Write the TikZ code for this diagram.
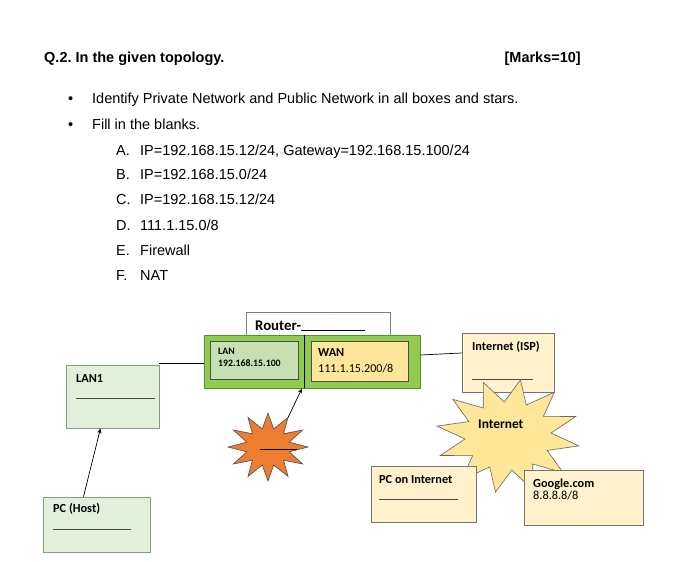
\documentclass[tikz,border=0pt]{standalone}
\usepackage{fontspec}
\setmainfont{Liberation Sans}
\newfontfamily\calfont{Carlito}
\usetikzlibrary{arrows.meta}
\frenchspacing
\definecolor{grnout}{HTML}{8FCB4E}
\definecolor{grnoutb}{HTML}{5B8C32}
\definecolor{laninner}{HTML}{C6E0B4}
\definecolor{wanfill}{HTML}{FFE699}
\definecolor{lgreen}{HTML}{E2EFDA}
\definecolor{lgreenb}{HTML}{8A9A80}
\definecolor{lyellow}{HTML}{FFF2CC}
\definecolor{starorange}{HTML}{ED7D31}
\definecolor{staryellow}{HTML}{FFE699}
\tikzset{
  box/.style={draw, line width=0.8pt, inner sep=0pt},
  body/.style={anchor=base west, inner sep=0pt, font=\fontsize{14.5}{16}\selectfont},
  bodyb/.style={body, font=\fontsize{14.5}{16}\selectfont\bfseries},
  lbl/.style={anchor=base west, inner sep=0pt, font=\fontsize{12.3}{14}\selectfont\calfont\bfseries},
  blank/.style={draw=black!70, line width=0.7pt},
  conn/.style={draw=black, line width=0.7pt},
  arr/.style={conn, -{Stealth[length=5pt,width=4pt]}}
}
\begin{document}
\begin{tikzpicture}[x=1pt,y=-1pt]
\useasboundingbox[fill=white] (0,0) rectangle (689,562);

% header text
\node[bodyb] (title) at (44,63) {Q.2. In the given topology.};
\node[bodyb, anchor=base east] (marks) at (581,63) {[Marks=10]};
\node[body] (b1) at (68,103) {\textbullet};
\node[body] (t1) at (92,103) {Identify Private Network and Public Network in all boxes and stars.};
\node[body] (b2) at (68,129) {\textbullet};
\node[body] (t2) at (92,129) {Fill in the blanks.};
\node[body] (la) at (116,155) {A.};
\node[body] (ta) at (140,155) {IP=192.168.15.12/24, Gateway=192.168.15.100/24};
\node[body] (lb) at (116,179) {B.};
\node[body] (tb) at (140,179) {IP=192.168.15.0/24};
\node[body] (lc) at (116,204) {C.};
\node[body] (tc) at (140,204) {IP=192.168.15.12/24};
\node[body] (ld) at (116,230) {D.};
\node[body] (td) at (140,230) {111.1.15.0/8};
\node[body] (le) at (116,255) {E.};
\node[body] (te) at (140,255) {Firewall};
\node[body] (lf) at (116,280) {F.};
\node[body] (tf) at (140,280) {NAT};

% router
\node[box, draw=black!50, fill=white, minimum width=144pt, minimum height=24pt] (rlabel) at (318,324) {};
\node[lbl, font=\fontsize{14.8}{16}\selectfont\calfont\bfseries] (rtext) at (255,330) {Router-\rule[-1pt]{64pt}{0.9pt}};
\node[box, draw=grnoutb, fill=grnout, minimum width=216pt, minimum height=53pt] (green) at (312,361.5) {};
\node[box, draw=black!70, fill=laninner, minimum width=88pt, minimum height=38pt] (lanbox) at (254,360) {};
\node[box, draw=black!70, fill=wanfill, minimum width=97pt, minimum height=40pt] (wanbox) at (359.5,361) {};
\draw[conn, line width=1pt] ([xshift=-8pt]green.north) -- ([xshift=-8pt]green.south);
\node[lbl, font=\fontsize{9.8}{11}\selectfont\calfont\bfseries] (lant) at (218,354.5) {LAN};
\node[lbl, font=\fontsize{9.8}{11}\selectfont\calfont\bfseries] (lanip) at (218,366.5) {192.168.15.100};
\node[lbl, font=\fontsize{12.3}{14}\selectfont\calfont\bfseries] (want) at (318,356.5) {WAN};
\node[lbl, font=\fontsize{12.1}{14}\selectfont\calfont] (wanip) at (318,372.5) {111.1.15.200/8};

% LAN1 and PC
\node[box, draw=lgreenb, fill=lgreen, minimum width=93pt, minimum height=63pt] (lan1) at (112.5,396.5) {};
\node[lbl] (lan1t) at (76,382) {LAN1};
\draw[blank] (76,398) -- (155,398);
\node[box, draw=lgreenb, fill=lgreen, minimum width=107pt, minimum height=55pt] (pc) at (96.5,524.5) {};
\node[lbl] (pct) at (53,512) {PC (Host)};
\draw[blank] (53,529) -- (131,529);

\draw[conn] ([yshift=1pt]lan1.north east) -- ([yshift=1pt]lan1.north east -| green.west);
\draw[arr] ([xshift=-13pt]pc.north) -- ([xshift=-12pt]lan1.south);

% orange star
\begin{scope}[shift={(268,447)}, xscale=40, yscale=34]
  \draw[fill=starorange, draw=black!70, line width=0.6pt] (0:1)
    \foreach \a in {0,30,...,330} { -- (\a+15:0.55) -- (\a+30:1) } -- cycle;
  \coordinate (otip) at (300:1);
\end{scope}
\draw[line width=0.9pt] (260,449) -- (297,449);
\draw[arr] (otip) -- ([xshift=-10pt]green.south);

% ISP
\node[box, draw=black!55, fill=lyellow, minimum width=92pt, minimum height=59pt] (isp) at (508,362.5) {};
\node[lbl] (ispt) at (472,350) {Internet (ISP)};
\draw[blank] (472,379) -- (533,379);
\draw[conn] ([yshift=6.5pt]green.east) -- ([yshift=9.5pt]isp.west);

% Internet star
\begin{scope}[shift={(508,436)}, xscale=72, yscale=57]
  \draw[fill=staryellow, draw=black!60, line width=0.6pt] (10:1)
    \foreach \a in {10,40,...,340} { -- (\a+15:0.6) -- (\a+30:1) } -- cycle;
\end{scope}
\node[lbl, font=\fontsize{13.4}{15}\selectfont\calfont\bfseries] (inett) at (478,428.5) {Internet};

% PC on Internet, Google
\node[box, draw=black!55, fill=lyellow, minimum width=105pt, minimum height=56pt] (pci) at (423.5,494) {};
\node[lbl] (pcit) at (379,483) {PC on Internet};
\draw[blank] (379,499) -- (458,499);
\node[box, draw=black!55, fill=lyellow, minimum width=119pt, minimum height=55pt] (google) at (583.5,497.5) {};
\node[lbl] (gt) at (533,487) {Google.com};
\node[lbl, font=\fontsize{12.3}{14}\selectfont\calfont] (gip) at (533,499.5) {8.8.8.8/8};
\end{tikzpicture}
\end{document}
